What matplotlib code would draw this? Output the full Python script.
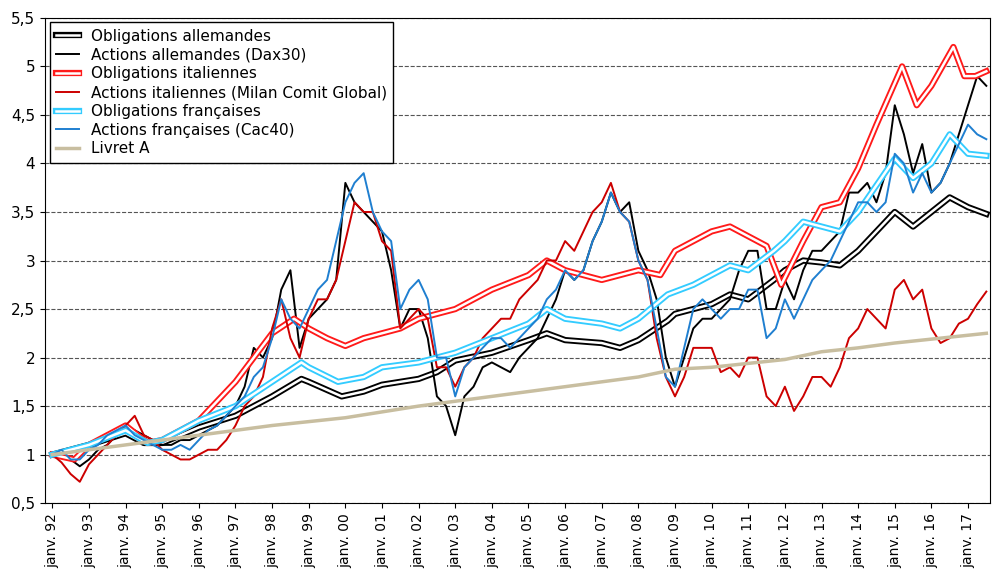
import numpy as np
import matplotlib.pyplot as plt
import matplotlib.patheffects as pe

# Actions: valeurs trimestrielles depuis janv. 92
dax = [1.0, 1.02, 0.95, 0.88, 0.95, 1.05, 1.1, 1.2, 1.3, 1.25, 1.2, 1.15,
       1.1, 1.1, 1.15, 1.15, 1.2, 1.25, 1.3, 1.4, 1.5, 1.7, 2.1, 2.0,
       2.2, 2.7, 2.9, 2.1, 2.4, 2.5, 2.6, 2.8, 3.8, 3.6, 3.5, 3.4,
       3.3, 2.9, 2.3, 2.5, 2.5, 2.2, 1.6, 1.5, 1.2, 1.6, 1.7, 1.9,
       1.95, 1.9, 1.85, 2.0, 2.1, 2.2, 2.4, 2.6, 2.9, 2.8, 2.9, 3.2,
       3.4, 3.7, 3.5, 3.6, 3.1, 2.9, 2.6, 2.0, 1.7, 2.0, 2.3, 2.4,
       2.4, 2.5, 2.6, 2.9, 3.1, 3.1, 2.5, 2.5, 2.8, 2.6, 2.9, 3.1,
       3.1, 3.2, 3.3, 3.7, 3.7, 3.8, 3.6, 3.9, 4.6, 4.3, 3.9, 4.2,
       3.7, 3.8, 4.0, 4.3, 4.6, 4.9, 4.8]
milan = [1.0, 0.92, 0.8, 0.72, 0.9, 1.0, 1.1, 1.2, 1.3, 1.4, 1.2, 1.15,
         1.05, 1.0, 0.95, 0.95, 1.0, 1.05, 1.05, 1.15, 1.3, 1.5, 1.6, 1.8,
         2.3, 2.6, 2.2, 2.0, 2.4, 2.6, 2.6, 2.8, 3.2, 3.6, 3.5, 3.5,
         3.2, 3.1, 2.3, 2.4, 2.5, 2.4, 1.9, 1.9, 1.7, 1.9, 2.0, 2.2,
         2.3, 2.4, 2.4, 2.6, 2.7, 2.8, 3.0, 3.0, 3.2, 3.1, 3.3, 3.5,
         3.6, 3.8, 3.5, 3.4, 3.0, 2.8, 2.2, 1.8, 1.6, 1.8, 2.1, 2.1,
         2.1, 1.85, 1.9, 1.8, 2.0, 2.0, 1.6, 1.5, 1.7, 1.45, 1.6, 1.8,
         1.8, 1.7, 1.9, 2.2, 2.3, 2.5, 2.4, 2.3, 2.7, 2.8, 2.6, 2.7,
         2.3, 2.15, 2.2, 2.35, 2.4, 2.55, 2.68]
cac = [1.0, 1.05, 0.95, 0.95, 1.05, 1.1, 1.2, 1.25, 1.3, 1.2, 1.15, 1.1,
       1.05, 1.05, 1.1, 1.05, 1.15, 1.25, 1.3, 1.4, 1.5, 1.6, 1.8, 1.9,
       2.2, 2.6, 2.4, 2.3, 2.5, 2.7, 2.8, 3.2, 3.6, 3.8, 3.9, 3.5,
       3.3, 3.2, 2.5, 2.7, 2.8, 2.6, 2.0, 2.0, 1.6, 1.9, 2.0, 2.1,
       2.2, 2.2, 2.1, 2.2, 2.3, 2.4, 2.6, 2.7, 2.9, 2.8, 2.9, 3.2,
       3.4, 3.7, 3.5, 3.4, 3.0, 2.8, 2.3, 1.8, 1.7, 2.1, 2.5, 2.6,
       2.5, 2.4, 2.5, 2.5, 2.7, 2.7, 2.2, 2.3, 2.6, 2.4, 2.6, 2.8,
       2.9, 3.0, 3.2, 3.4, 3.6, 3.6, 3.5, 3.6, 4.1, 4.0, 3.7, 3.9,
       3.7, 3.8, 4.0, 4.2, 4.4, 4.3, 4.25]

# Obligations: (date, valeur)
oblig_all_t = [1992, 1993, 1994, 1994.5, 1995, 1996, 1997, 1998, 1998.8, 1999, 1999.9, 2000.5,
               2001, 2002, 2002.5, 2003, 2004, 2005, 2005.5, 2006, 2007, 2007.5, 2008, 2008.8,
               2009, 2010, 2010.5, 2011, 2011.7, 2012, 2012.5, 2013, 2013.5, 2014, 2015, 2015.5,
               2016, 2016.5, 2017, 2017.5]
oblig_all = [1.0, 1.1, 1.22, 1.12, 1.12, 1.28, 1.4, 1.6, 1.78, 1.75, 1.6, 1.65,
             1.72, 1.78, 1.85, 1.97, 2.05, 2.18, 2.25, 2.18, 2.15, 2.1, 2.18, 2.38,
             2.45, 2.55, 2.65, 2.6, 2.8, 2.9, 3.0, 2.98, 2.95, 3.1, 3.5, 3.35,
             3.5, 3.65, 3.55, 3.48]
oblig_ita_t = [1992, 1992.6, 1993, 1994, 1994.6, 1995, 1996, 1997, 1998, 1998.6, 1999, 1999.5,
               2000, 2000.5, 2001, 2001.5, 2002, 2003, 2004, 2005, 2005.5, 2006, 2006.5, 2007,
               2007.5, 2008, 2008.6, 2009, 2010, 2010.5, 2011, 2011.5, 2011.9, 2012.5, 2013, 2013.5,
               2014, 2014.5, 2015.2, 2015.6, 2016, 2016.6, 2016.9, 2017.2, 2017.5]
oblig_ita = [1.0, 0.95, 1.1, 1.3, 1.12, 1.15, 1.35, 1.75, 2.25, 2.4, 2.3, 2.2,
             2.12, 2.2, 2.25, 2.3, 2.4, 2.5, 2.7, 2.85, 3.0, 2.9, 2.85, 2.8,
             2.85, 2.9, 2.85, 3.1, 3.3, 3.35, 3.25, 3.15, 2.75, 3.2, 3.55, 3.6,
             3.95, 4.4, 5.0, 4.6, 4.8, 5.2, 4.9, 4.9, 4.95]
oblig_fra_t = [1992, 1993, 1994, 1994.6, 1995, 1996, 1997, 1998, 1998.8, 1999, 1999.8, 2000.5,
               2001, 2002, 2003, 2004, 2005, 2005.5, 2006, 2007, 2007.5, 2008, 2008.8, 2009.5,
               2010, 2010.5, 2011, 2011.7, 2012, 2012.5, 2013, 2013.5, 2014, 2015, 2015.5, 2016,
               2016.5, 2017, 2017.5]
oblig_fra = [1.0, 1.1, 1.25, 1.12, 1.15, 1.35, 1.5, 1.75, 1.95, 1.9, 1.75, 1.8,
             1.9, 1.95, 2.05, 2.2, 2.35, 2.5, 2.4, 2.35, 2.3, 2.4, 2.65, 2.75,
             2.85, 2.95, 2.9, 3.1, 3.2, 3.4, 3.35, 3.3, 3.5, 4.05, 3.85, 4.0,
             4.3, 4.1, 4.08]
livret_t = [1992, 1995, 1998, 2000, 2002, 2004, 2006, 2008, 2009, 2010, 2012, 2013,
            2014, 2015, 2016, 2017.5]
livret = [1.0, 1.15, 1.3, 1.38, 1.5, 1.6, 1.7, 1.8, 1.88, 1.9, 1.98, 2.06,
          2.1, 2.15, 2.19, 2.25]

annees = np.arange(1992, 2018)
etiquettes = ["janv. %02d" % (a % 100) for a in annees]

t_actions = 1992 + 0.25 * np.arange(len(dax))

def double_trait(couleur):
    # contour coloré, centre blanc
    return [pe.Stroke(linewidth=4.5, foreground=couleur), pe.Normal()]

plt.figure("Performances", figsize=(10, 5.77))
plt.axes([0.045, 0.128, 0.945, 0.841])

l1, = plt.plot(oblig_all_t, oblig_all, color='white', lw=1.8, path_effects=double_trait('black'))
l2, = plt.plot(t_actions, dax, color='black', lw=1.4)
l3, = plt.plot(oblig_ita_t, oblig_ita, color='white', lw=1.8, path_effects=double_trait('#ff1a1a'))
l4, = plt.plot(t_actions, milan, color='#cc0000', lw=1.4)
l5, = plt.plot(oblig_fra_t, oblig_fra, color='white', lw=1.8, path_effects=double_trait('#33ccff'))
l6, = plt.plot(t_actions, cac, color='#1f7fd0', lw=1.4)
l7, = plt.plot(livret_t, livret, color='#c8bea0', lw=2.5)

plt.ylim(0.5, 5.5)
plt.xlim(1991.8, 2017.6)
plt.yticks(np.arange(0.5, 5.51, 0.5), [("%g" % v).replace('.', ',') for v in np.arange(0.5, 5.51, 0.5)])
plt.xticks(annees, etiquettes, rotation=90)
plt.tick_params(axis='y', labelsize=11)
plt.tick_params(axis='x', labelsize=10)
plt.grid(axis='y', linestyle='--', color='#555555', lw=0.8)

leg = plt.legend([l1, l2, l3, l4, l5, l6, l7],
                 ["Obligations allemandes", "Actions allemandes (Dax30)", "Obligations italiennes",
                  "Actions italiennes (Milan Comit Global)", "Obligations françaises",
                  "Actions françaises (Cac40)", "Livret A"],
                 loc='upper left', fontsize=11, fancybox=False, framealpha=1,
                 borderaxespad=0.3, handlelength=1.5, labelspacing=0.25)
leg.get_frame().set_edgecolor('black')

plt.savefig("out.png", dpi=100)
